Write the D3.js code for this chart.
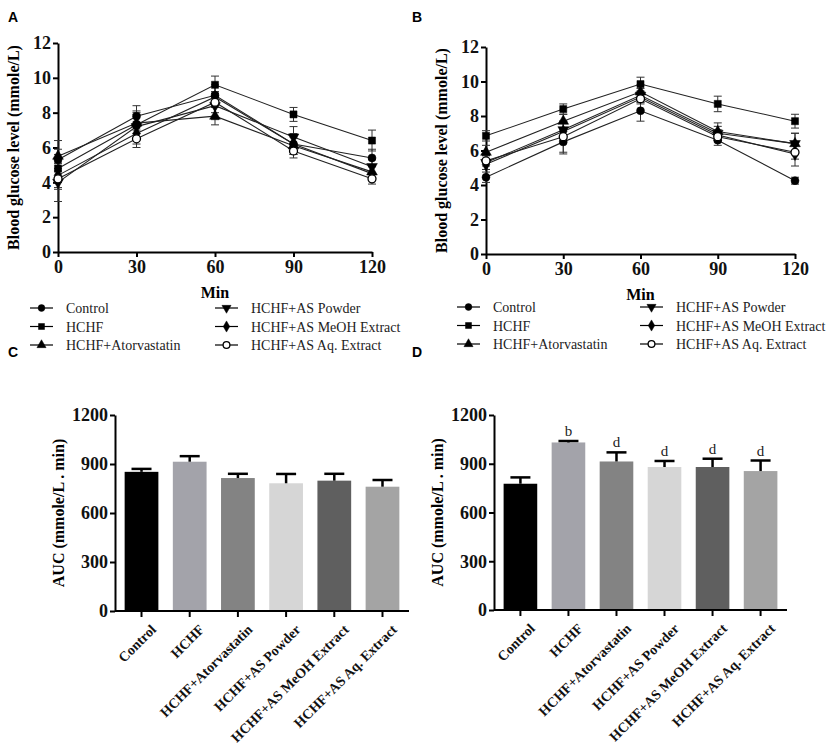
<!DOCTYPE html>
<html>
<head>
<meta charset="utf-8">
<script src="https://cdn.jsdelivr.net/npm/d3@7"></script>
<style>
  body { margin: 0; background: #fff; }
</style>
</head>
<body>
<script>
// groups
let groups = ['Control', 'HCHF', 'HCHF+Atorvastatin', 'HCHF+AS Powder', 'HCHF+AS MeOH Extract', 'HCHF+AS Aq. Extract']
let minutes = [0, 30, 60, 90, 120]
let glucoseTicks = [0, 2, 4, 6, 8, 10, 12]
let aucTicks = [0, 300, 600, 900, 1200]

// panel A - blood glucose (mmole/L)
let glucoseA = [
  [5.3, 7.8, 9.0, 6.2, 5.4],
  [4.8, 7.3, 9.6, 7.9, 6.4],
  [5.5, 7.4, 7.8, 6.1, 4.6],
  [4.0, 7.2, 8.4, 6.6, 4.9],
  [4.4, 6.8, 8.9, 6.2, 4.5],
  [4.2, 6.5, 8.6, 5.8, 4.2]
]
let errA = [
  [0.6, 0.6, 0.6, 0.5, 0.5],
  [0.8, 0.8, 0.5, 0.4, 0.6],
  [0.9, 0.6, 0.5, 0.5, 0.4],
  [1.1, 0.7, 0.8, 0.6, 0.4],
  [0.7, 0.6, 0.6, 0.6, 0.4],
  [0.6, 0.5, 0.6, 0.4, 0.3]
]

// panel B
let glucoseB = [
  [4.45, 6.5, 8.3, 6.6, 4.25],
  [6.85, 8.4, 9.85, 8.7, 7.7],
  [5.9, 7.7, 9.4, 7.1, 6.4],
  [5.3, 7.2, 9.2, 7.0, 6.4],
  [5.2, 7.1, 9.1, 6.9, 5.8],
  [5.4, 6.8, 9.0, 6.8, 5.9]
]
let errB = [
  [0.3, 0.7, 0.6, 0.3, 0.2],
  [0.3, 0.3, 0.4, 0.45, 0.4],
  [0.4, 0.4, 0.4, 0.5, 0.6],
  [0.4, 0.5, 0.4, 0.4, 0.6],
  [0.3, 0.5, 0.3, 0.3, 0.7],
  [0.3, 0.9, 0.3, 0.3, 0.4]
]

// panels C, D - AUC (mmole/L . min)
let aucC = [852, 914, 814, 782, 798, 761]
let aucErrC = [18, 34, 26, 57, 42, 41]
let aucD = [777, 1031, 914, 880, 880, 855]
let aucErrD = [39, 9, 56, 37, 51, 65]
let sigD = ['', 'b', 'd', 'd', 'd', 'd']

let barColors = ['#000000', '#a3a3aa', '#838383', '#d6d6d6', '#5f5f5f', '#a4a4a4']
let symbols = [d3.symbolCircle, d3.symbolSquare, d3.symbolTriangle, d3.symbolTriangle, d3.symbolDiamond, d3.symbolCircle]

let width = 829
let height = 746
let serif = '"Liberation Serif", "DejaVu Serif", serif'
let sans = '"Liberation Sans", Arial, sans-serif'

let svg = d3.select('body').append('svg').attr('width', width).attr('height', height)
  .attr('font-family', serif)

// bold serif axis look
let styleAxis = (a, size) => {
  a.attr('font-family', serif).attr('font-size', size).attr('font-weight', 'bold')
  a.selectAll('path, line').attr('stroke', '#000').attr('stroke-width', 2)
  a.selectAll('text').attr('font-size', size).attr('fill', '#111')
}

let drawMarker = (g, i, x, y, size) => {
  let sym = d3.symbol().type(symbols[i]).size(size)
  let rot = i == 3 ? 180 : 0
  g.append('path')
    .attr('d', sym())
    .attr('transform', 'translate(' + x + ',' + y + ') rotate(' + rot + ')')
    .attr('fill', i == 5 ? '#fff' : '#000')
    .attr('stroke', '#000')
    .attr('stroke-width', i == 5 ? 1.3 : 0.5)
}

let drawLinePanel = (opt) => {
  let g = svg.append('g')
  let x = d3.scaleLinear().domain([0, 120]).range([opt.x0, opt.x1])
  let y = d3.scaleLinear().domain([0, 12]).range([opt.y0, opt.y1])

  g.append('g')
    .attr('transform', 'translate(0,' + opt.y0 + ')')
    .call(d3.axisBottom(x).tickValues(minutes).tickSize(5).tickSizeOuter(0).tickPadding(3))
    .call(a => styleAxis(a, 18))
  g.append('g')
    .attr('transform', 'translate(' + opt.x0 + ',0)')
    .call(d3.axisLeft(y).tickValues(glucoseTicks).tickSize(5).tickSizeOuter(0).tickPadding(2))
    .call(a => styleAxis(a, 18))

  let line = d3.line().x((d, j) => x(minutes[j])).y(d => y(d))

  opt.data.forEach((vals, i) => {
    g.append('path').attr('d', line(vals))
      .attr('fill', 'none').attr('stroke', '#222').attr('stroke-width', 1.1)
    vals.forEach((v, j) => {
      let e = opt.err[i][j]
      let cx = x(minutes[j])
      g.append('line').attr('x1', cx).attr('x2', cx)
        .attr('y1', y(v - e)).attr('y2', y(v + e))
        .attr('stroke', '#333').attr('stroke-width', 1)
      ;[v - e, v + e].forEach(t => {
        g.append('line').attr('x1', cx - 4).attr('x2', cx + 4)
          .attr('y1', y(t)).attr('y2', y(t))
          .attr('stroke', '#333').attr('stroke-width', 1)
      })
    })
  })
  opt.data.forEach((vals, i) => {
    vals.forEach((v, j) => drawMarker(g, i, x(minutes[j]), y(v), 50))
  })

  g.append('text').attr('x', (opt.x0 + opt.x1) / 2).attr('y', opt.y0 + 46)
    .attr('text-anchor', 'middle').attr('font-size', 16).attr('font-weight', 'bold')
    .text('Min')
  g.append('text')
    .attr('transform', 'translate(' + opt.ytx + ',' + (opt.y0 + opt.y1) / 2 + ') rotate(-90)')
    .attr('text-anchor', 'middle').attr('font-size', 16).attr('font-weight', 'bold')
    .text('Blood glucose level (mmole/L)')

  // legend
  groups.forEach((name, i) => {
    let col = Math.floor(i / 3)
    let row = i % 3
    let lx = opt.legX[col]
    let ly = opt.legY + row * 18.5
    g.append('line').attr('x1', lx).attr('x2', lx + 23).attr('y1', ly).attr('y2', ly)
      .attr('stroke', '#000').attr('stroke-width', 1.2)
    drawMarker(g, i, lx + 11.5, ly, 36)
    g.append('text').attr('x', lx + 36).attr('y', ly + 5)
      .attr('font-size', 14).attr('fill', '#222').text(name)
  })

  g.append('text').attr('x', opt.lx).attr('y', 22)
    .attr('font-family', sans)
    .attr('font-size', 14).attr('font-weight', 'bold').text(opt.label)
}

let drawBarPanel = (opt) => {
  let g = svg.append('g')
  let x = d3.scaleBand().domain(groups).range([opt.x0, opt.x1]).paddingInner(0.3).paddingOuter(0.2)
  let y = d3.scaleLinear().domain([0, 1200]).range([opt.y0, opt.y1])

  g.selectAll('rect.bar').data(opt.values).enter().append('rect')
    .attr('x', (d, i) => x(groups[i]))
    .attr('y', d => y(d))
    .attr('width', x.bandwidth())
    .attr('height', d => opt.y0 - y(d))
    .attr('fill', (d, i) => barColors[i])

  opt.values.forEach((v, i) => {
    let cx = x(groups[i]) + x.bandwidth() / 2
    let top = y(v + opt.err[i])
    g.append('line').attr('x1', cx).attr('x2', cx).attr('y1', y(v)).attr('y2', top)
      .attr('stroke', '#000').attr('stroke-width', 2.5)
    g.append('line').attr('x1', cx - 10).attr('x2', cx + 10).attr('y1', top).attr('y2', top)
      .attr('stroke', '#000').attr('stroke-width', 2.5)
    if (opt.sig && opt.sig[i]) {
      g.append('text').attr('x', cx).attr('y', top - 5).attr('text-anchor', 'middle')
        .attr('font-size', 15).attr('fill', '#222').text(opt.sig[i])
    }
  })

  g.append('g')
    .attr('transform', 'translate(0,' + opt.y0 + ')')
    .call(d3.axisBottom(x).tickSize(6).tickSizeOuter(0).tickPadding(6))
    .call(a => a.select('.domain').attr('d', 'M' + opt.x0 + ',0H' + opt.x1))
    .call(a => styleAxis(a, 14))
    .selectAll('text')
    .attr('text-anchor', 'end')
    .attr('dx', '-0.2em').attr('dy', '0.9em')
    .attr('transform', 'rotate(-45)')
  g.append('g')
    .attr('transform', 'translate(' + opt.x0 + ',0)')
    .call(d3.axisLeft(y).tickValues(aucTicks).tickFormat(d3.format('d')).tickSize(5).tickSizeOuter(0).tickPadding(2))
    .call(a => styleAxis(a, 18))

  g.append('text')
    .attr('transform', 'translate(' + opt.ytx + ',' + (opt.y0 + opt.y1) / 2 + ') rotate(-90)')
    .attr('text-anchor', 'middle').attr('font-size', 16).attr('font-weight', 'bold')
    .text('AUC (mmole/L . min)')

  g.append('text').attr('x', opt.lx).attr('y', 357)
    .attr('font-family', sans)
    .attr('font-size', 14).attr('font-weight', 'bold').text(opt.label)
}

drawLinePanel({ label: 'A', lx: 8, x0: 58, x1: 372, y0: 252, y1: 43, ytx: 19,
  data: glucoseA, err: errA, legX: [30, 215], legY: 308 })
drawLinePanel({ label: 'B', lx: 412, x0: 486, x1: 795, y0: 254, y1: 47, ytx: 447,
  data: glucoseB, err: errB, legX: [457, 640], legY: 307 })

drawBarPanel({ label: 'C', lx: 8, x0: 115, x1: 409, y0: 611, y1: 415, ytx: 64,
  values: aucC, err: aucErrC })
drawBarPanel({ label: 'D', lx: 412, x0: 494, x1: 787, y0: 610, y1: 415, ytx: 443,
  values: aucD, err: aucErrD, sig: sigD })
</script>
</body>
</html>
